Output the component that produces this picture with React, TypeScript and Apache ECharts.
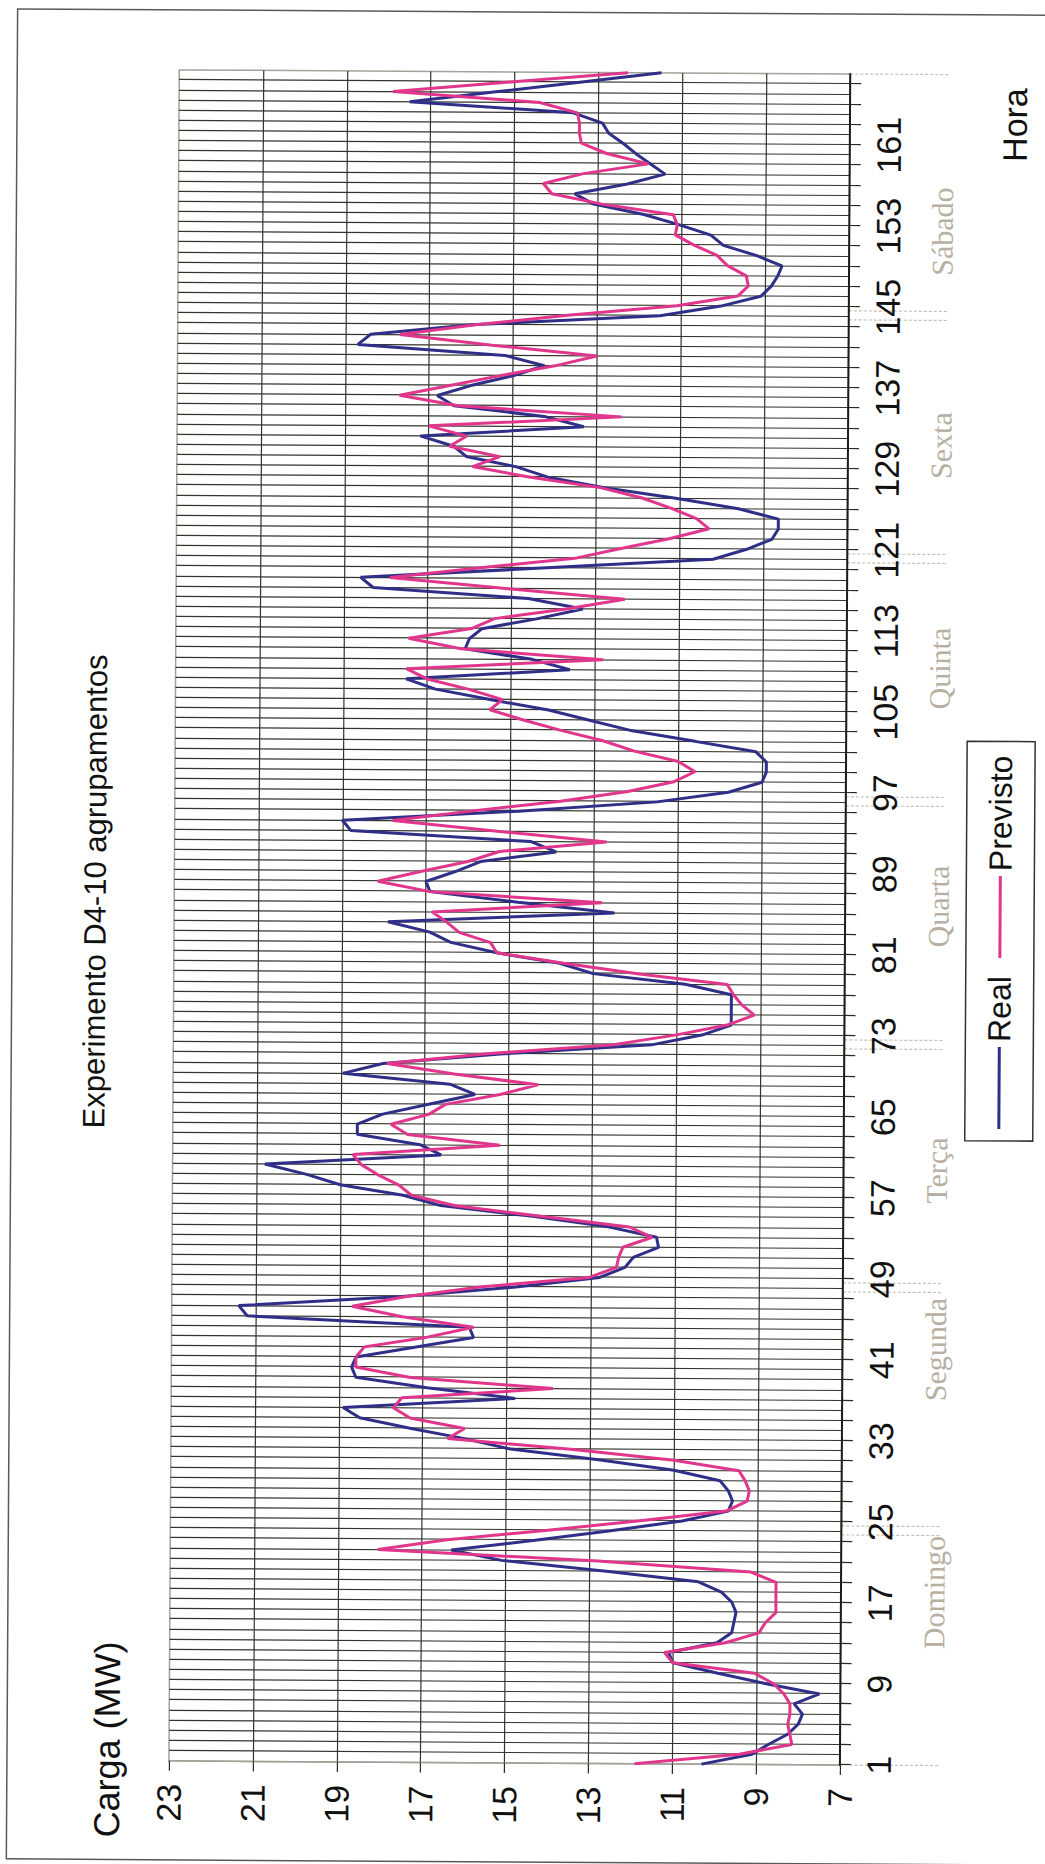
import React, { useEffect, useRef } from "react";
import * as echarts from "echarts";

// Hours 1..168 (category axis)
const HOURS: string[] = Array.from({ length: 168 }, (_, i) => String(i + 1));

// Carga real (MW), hours 1..168
const REAL: number[] = [
  10.3, 9.1, 8.7, 8.25, 8.0, 7.9, 8.1, 7.5, 8.8, 9.95,
  11.0, 11.1, 9.95, 9.6, 9.55, 9.5, 9.6, 9.85, 10.4, 12.6,
  15.1, 16.3, 14.3, 12.5, 10.8, 9.7, 9.6, 9.7, 9.9, 11.0,
  12.8, 14.9, 16.0, 17.3, 18.5, 18.9, 14.8, 16.9, 18.6, 18.7,
  18.6, 17.2, 15.8, 15.9, 21.2, 21.4, 17.5, 14.8, 12.8, 12.2,
  12.0, 11.4, 11.45, 12.6, 14.4, 16.6, 17.5, 19.0, 19.8, 20.8,
  16.6, 17.1, 18.6, 18.6, 18.0, 16.9, 15.8, 16.4, 18.95, 18.0,
  15.2, 11.6, 10.4, 9.7, 9.7, 9.7, 9.7, 10.8, 13.0, 13.8,
  15.3, 16.4, 16.9, 17.9, 12.5, 14.8, 16.9, 17.0, 16.3, 15.7,
  13.9, 14.5, 18.8, 19.0, 14.8, 11.5, 9.8, 9.0, 8.9, 8.9,
  9.15, 10.6, 12.1, 13.1, 14.1, 15.5, 16.8, 17.5, 13.6, 14.5,
  16.1, 16.0, 15.7, 14.4, 13.3, 14.6, 18.3, 18.6, 14.4, 10.2,
  9.4, 8.8, 8.65, 8.65, 9.6, 11.1, 12.8, 14.15, 14.9, 16.1,
  16.4, 17.2, 13.3, 14.25, 16.4, 16.8, 16.0, 15.0, 14.25, 15.2,
  18.7, 18.4, 16.0, 11.5, 10.05, 9.1, 8.85, 8.7, 8.6, 9.2,
  10.0, 10.3, 11.05, 11.9, 13.1, 13.55, 12.3, 11.4, 11.75, 12.1,
  12.4, 12.75, 12.9, 13.6, 17.5, 15.5, 13.5, 11.5,
];

// Carga prevista (MW), hours 1..168
const PREVISTO: number[] = [
  11.9, 9.4, 8.15, 8.2, 8.25, 8.2, 8.2, 8.35, 8.6, 9.05,
  11.0, 11.2, 9.75, 8.95, 8.8, 8.55, 8.55, 8.55, 8.55, 9.15,
  12.8, 18.05, 16.4, 14.0, 11.8, 9.75, 9.25, 9.2, 9.3, 9.45,
  11.0, 13.4, 16.4, 16.0, 17.3, 17.7, 17.5, 13.9, 17.3, 18.6,
  18.6, 18.4, 16.9, 15.8, 17.5, 18.7, 17.4, 15.6, 13.05, 12.4,
  12.35, 12.25, 11.55, 12.1, 14.2, 16.25, 17.3, 17.6, 18.1, 18.5,
  18.7, 15.2, 17.4, 17.8, 16.9, 16.5, 15.2, 14.3, 16.3, 17.9,
  15.6, 12.5, 11.0, 9.8, 9.15, 9.45, 9.65, 9.8, 11.9, 13.7,
  15.3, 15.45, 16.2, 16.5, 16.85, 12.8, 16.9, 18.15, 17.1, 16.0,
  15.25, 12.7, 15.3, 17.8, 15.9, 13.8, 12.2, 11.1, 10.6, 11.0,
  12.05, 12.8, 13.8, 14.7, 15.5, 15.2, 16.0, 17.0, 17.5, 12.8,
  16.2, 17.45, 15.95, 15.4, 13.7, 12.3, 15.2, 17.9, 15.8, 13.5,
  12.4, 11.25, 10.3, 10.6, 11.2, 11.9, 12.9, 14.6, 15.95, 15.3,
  16.5, 16.1, 17.0, 12.4, 16.3, 17.7, 16.5, 15.3, 14.0, 13.0,
  15.5, 17.7, 15.9, 13.7, 11.1, 9.65, 9.4, 9.45, 9.9, 10.15,
  10.7, 11.15, 11.1, 11.2, 12.9, 14.1, 14.3, 13.35, 11.8, 12.8,
  13.4, 13.45, 13.45, 13.5, 14.4, 17.9, 15.1, 12.3,
];

const SERIES_NAMES = ["Real", "Previsto"];
const DAY_NAMES = ["Domingo", "Segunda", "Terça", "Quarta", "Quinta", "Sexta", "Sábado"];
const DAY_BOUNDARIES = [25, 49, 73, 97, 121, 145];
const TITLE = "Experimento D4-10 agrupamentos";
const Y_NAME = "Carga (MW)";
const X_NAME = "Hora";

// Chart is drawn in its own (landscape) frame and turned a quarter turn.
const CW = 1864;
const CH = 1045;

export default function App() {
  const ref = useRef<HTMLDivElement>(null);

  useEffect(() => {
    if (!ref.current) return;
    const chart = echarts.init(ref.current, null, { renderer: "svg" });
    const sans = "'Liberation Sans', Arial, sans-serif";
    const gridLine = "#34352e";
    const borderGray = "#a3a198";

    chart.setOption({
      animation: false,
      backgroundColor: "#ffffff",
      grid: {
        left: 101,
        top: 174,
        width: 1691,
        height: 671,
        show: true,
        borderColor: borderGray,
        borderWidth: 1.5,
        backgroundColor: "transparent",
      },
      legend: {
        data: SERIES_NAMES,
        left: 726,
        top: 966,
        orient: "horizontal",
        icon: "rect",
        itemWidth: 82,
        itemHeight: 3,
        itemGap: 18,
        padding: [18, 14, 18, 12],
        borderColor: "#333",
        borderWidth: 1.5,
        textStyle: { fontSize: 32, color: "#111", fontFamily: sans },
      },
      xAxis: {
        type: "category",
        data: HOURS,
        boundaryGap: false,
        axisLine: { show: true, lineStyle: { color: "#1c1c18", width: 2 } },
        axisTick: { show: true, interval: 1, length: 11, lineStyle: { color: "#2a2a24", width: 1.2 } },
        axisLabel: { interval: 7, fontSize: 34, color: "#111", fontFamily: sans, margin: 22 },
        splitLine: {
          show: true,
          interval: 0,
          showMinLine: false,
          showMaxLine: false,
          lineStyle: { color: gridLine, width: 1.1 },
        },
      },
      yAxis: {
        type: "value",
        min: 7,
        max: 23,
        interval: 2,
        axisLine: { show: true, lineStyle: { color: borderGray, width: 1.5 } },
        axisTick: { show: true, length: 10, lineStyle: { color: "#2a2a24", width: 1.2 } },
        axisLabel: {
          fontSize: 34,
          color: "#111",
          fontFamily: sans,
          margin: 23,
          padding: [0, 0, 17, 0],
        },
        splitLine: {
          show: true,
          showMinLine: false,
          showMaxLine: false,
          lineStyle: { color: gridLine, width: 1.2 },
        },
      },
      series: [
        {
          name: SERIES_NAMES[0],
          type: "line",
          data: REAL,
          symbol: "none",
          showSymbol: false,
          lineStyle: { color: "#2f2f88", width: 3 },
          itemStyle: { color: "#2f2f88" },
          z: 3,
        },
        {
          name: SERIES_NAMES[1],
          type: "line",
          data: PREVISTO,
          symbol: "none",
          showSymbol: false,
          lineStyle: { color: "#e0368c", width: 3 },
          itemStyle: { color: "#e0368c" },
          z: 4,
        },
      ],
    });

    const hx = (h: number) => chart.convertToPixel({ xAxisIndex: 0 }, h - 1) as number;
    const axisV = 845;
    const graphics: any[] = [];

    // outer frame
    graphics.push({
      type: "rect",
      shape: { x: 2, y: 12, width: 1850, height: 1100 },
      style: { fill: "none", stroke: "#5a5a55", lineWidth: 1.5 },
      silent: true,
    });
    // title
    graphics.push({
      type: "text",
      style: {
        text: TITLE, x: 970, y: 95, font: `31px ${sans}`, fill: "#111",
        textAlign: "center", textVerticalAlign: "middle", align: "center", verticalAlign: "middle",
      },
    });
    // y name
    graphics.push({
      type: "text",
      style: {
        text: Y_NAME, x: 24, y: 112, font: `36px ${sans}`, fill: "#111",
        textAlign: "left", textVerticalAlign: "middle", align: "left", verticalAlign: "middle",
      },
    });
    // x name
    graphics.push({
      type: "text",
      style: {
        text: X_NAME, x: 1742, y: 1010, font: `34px ${sans}`, fill: "#111",
        textAlign: "center", textVerticalAlign: "middle", align: "center", verticalAlign: "middle",
      },
    });
    // day labels
    const dayU = [274, 517, 696, 960, 1198, 1421, 1635];
    DAY_NAMES.forEach((d, i) => {
      graphics.push({
        type: "text",
        style: {
          text: d, x: dayU[i], y: 938, font: `30px 'Liberation Serif', 'Times New Roman', serif`,
          fill: "#b7b0a2",
          textAlign: "center", textVerticalAlign: "middle", align: "center", verticalAlign: "middle",
        },
      });
    });
    // day separator marks
    const sepStyle = { stroke: "#c4c0b4", lineWidth: 1.2, lineDash: [3, 2] };
    DAY_BOUNDARIES.forEach((h) => {
      const u = hx(h);
      [u - 4, u - 13].forEach((x) => {
        graphics.push({ type: "line", shape: { x1: x, y1: axisV, x2: x, y2: 945 }, style: sepStyle, silent: true });
      });
    });
    [hx(1), hx(168)].forEach((x) => {
      graphics.push({ type: "line", shape: { x1: x, y1: axisV, x2: x, y2: 945 }, style: sepStyle, silent: true });
    });

    chart.setOption({ graphic: graphics });

    return () => chart.dispose();
  }, []);

  return (
    <div style={{ position: "absolute", left: 0, top: 0, width: 1045, height: 1864, overflow: "hidden", background: "#fff" }}>
      <div
        style={{
          position: "absolute", left: 0, top: 0, width: 1045, height: 1864,
          transform: "rotate(0.35deg)", transformOrigin: "522px 932px",
        }}
      >
        <div
          ref={ref}
          style={{
            position: "absolute", left: 0, top: 0, width: CW, height: CH,
            transformOrigin: "0 0", transform: `translate(0px, ${CW}px) rotate(-90deg)`,
          }}
        />
      </div>
    </div>
  );
}
